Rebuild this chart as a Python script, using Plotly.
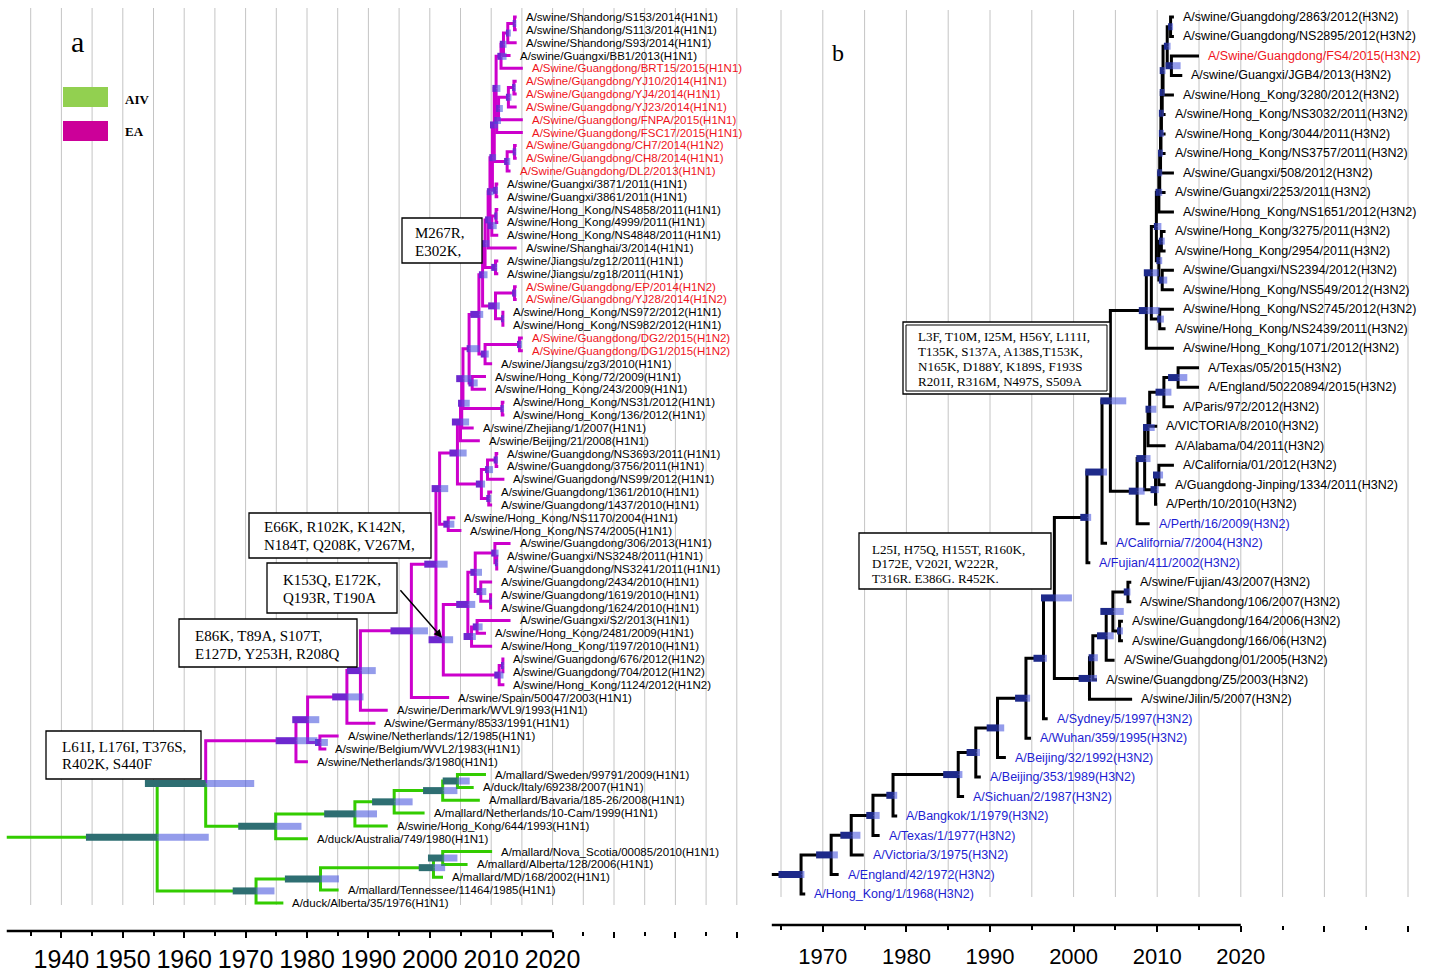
import plotly.graph_objects as go

W, H = 1445, 972

# ===================== Panel a data =====================
a_tip_names = [
    "A/swine/Shandong/S153/2014(H1N1)", "A/swine/Shandong/S113/2014(H1N1)",
    "A/swine/Shandong/S93/2014(H1N1)", "A/swine/Guangxi/BB1/2013(H1N1)",
    "A/Swine/Guangdong/BRT15/2015(H1N1)", "A/Swine/Guangdong/YJ10/2014(H1N1)",
    "A/Swine/Guangdong/YJ4/2014(H1N1)", "A/Swine/Guangdong/YJ23/2014(H1N1)",
    "A/Swine/Guangdong/FNPA/2015(H1N1)", "A/Swine/Guangdong/FSC17/2015(H1N1)",
    "A/Swine/Guangdong/CH7/2014(H1N2)", "A/Swine/Guangdong/CH8/2014(H1N1)",
    "A/Swine/Guangdong/DL2/2013(H1N1)", "A/swine/Guangxi/3871/2011(H1N1)",
    "A/swine/Guangxi/3861/2011(H1N1)", "A/swine/Hong_Kong/NS4858/2011(H1N1)",
    "A/swine/Hong_Kong/4999/2011(H1N1)", "A/swine/Hong_Kong/NS4848/2011(H1N1)",
    "A/swine/Shanghai/3/2014(H1N1)", "A/swine/Jiangsu/zg12/2011(H1N1)",
    "A/swine/Jiangsu/zg18/2011(H1N1)", "A/Swine/Guangdong/EP/2014(H1N2)",
    "A/Swine/Guangdong/YJ28/2014(H1N2)", "A/swine/Hong_Kong/NS972/2012(H1N1)",
    "A/swine/Hong_Kong/NS982/2012(H1N1)", "A/Swine/Guangdong/DG2/2015(H1N2)",
    "A/Swine/Guangdong/DG1/2015(H1N2)", "A/swine/Jiangsu/zg3/2010(H1N1)",
    "A/swine/Hong_Kong/72/2009(H1N1)", "A/swine/Hong_Kong/243/2009(H1N1)",
    "A/swine/Hong_Kong/NS31/2012(H1N1)", "A/swine/Hong_Kong/136/2012(H1N1)",
    "A/swine/Zhejiang/1/2007(H1N1)", "A/swine/Beijing/21/2008(H1N1)",
    "A/swine/Guangdong/NS3693/2011(H1N1)", "A/swine/Guangdong/3756/2011(H1N1)",
    "A/swine/Guangdong/NS99/2012(H1N1)", "A/swine/Guangdong/1361/2010(H1N1)",
    "A/swine/Guangdong/1437/2010(H1N1)", "A/swine/Hong_Kong/NS1170/2004(H1N1)",
    "A/swine/Hong_Kong/NS74/2005(H1N1)", "A/swine/Guangdong/306/2013(H1N1)",
    "A/swine/Guangxi/NS3248/2011(H1N1)", "A/swine/Guangdong/NS3241/2011(H1N1)",
    "A/swine/Guangdong/2434/2010(H1N1)", "A/swine/Guangdong/1619/2010(H1N1)",
    "A/swine/Guangdong/1624/2010(H1N1)", "A/swine/Guangxi/S2/2013(H1N1)",
    "A/swine/Hong_Kong/2481/2009(H1N1)", "A/swine/Hong_Kong/1197/2010(H1N1)",
    "A/swine/Guangdong/676/2012(H1N2)", "A/swine/Guangdong/704/2012(H1N2)",
    "A/swine/Hong_Kong/1124/2012(H1N2)", "A/swine/Spain/50047/2003(H1N1)",
    "A/swine/Denmark/WVL9/1993(H1N1)", "A/swine/Germany/8533/1991(H1N1)",
    "A/swine/Netherlands/12/1985(H1N1)", "A/swine/Belgium/WVL2/1983(H1N1)",
    "A/swine/Netherlands/3/1980(H1N1)", "A/mallard/Sweden/99791/2009(H1N1)",
    "A/duck/Italy/69238/2007(H1N1)", "A/mallard/Bavaria/185-26/2008(H1N1)",
    "A/mallard/Netherlands/10-Cam/1999(H1N1)", "A/swine/Hong_Kong/644/1993(H1N1)",
    "A/duck/Australia/749/1980(H1N1)", "A/mallard/Nova_Scotia/00085/2010(H1N1)",
    "A/mallard/Alberta/128/2006(H1N1)", "A/mallard/MD/168/2002(H1N1)",
    "A/mallard/Tennessee/11464/1985(H1N1)", "A/duck/Alberta/35/1976(H1N1)",
]
a_tip_dates = [
    2014.15, 2014.15, 2014.15, 2013.15, 2015.15, 2014.15, 2014.15, 2014.15, 2015.15, 2015.15,
    2014.15, 2014.15, 2013.15, 2011.15, 2011.15, 2011.15, 2011.15, 2011.15, 2014.15, 2011.15,
    2011.15, 2014.15, 2014.15, 2012.15, 2012.15, 2015.15, 2015.15, 2010.15, 2009.15, 2009.15,
    2012.15, 2012.15, 2007.15, 2008.15, 2011.15, 2011.15, 2012.15, 2010.15, 2010.15, 2004.15,
    2005.15, 2013.15, 2011.15, 2011.15, 2010.15, 2010.15, 2010.15, 2013.15, 2009.15, 2010.15,
    2012.15, 2012.15, 2012.15, 2003.15, 1993.15, 1991.15, 1985.15, 1983.15, 1980.15, 2009.15,
    2007.15, 2008.15, 1999.15, 1993.15, 1980.15, 2010.15, 2006.15, 2002.15, 1985.15, 1976.15,
]
a_new_strains = [4, 5, 6, 7, 8, 9, 10, 11, 12, 21, 22, 25, 26]

# internal nodes: (name, date, 95% HPD low, 95% HPD high, [upper child, lower child])
a_nodes = [
    ("root", 1955.6, 1944.0, 1964.0, ["N1", "G2"]),
    ("N1", 1963.5, 1953.6, 1971.4, ["EA0", "G1"]),
    ("EA0", 1978.2, 1974.9, 1981.7, ["EA1", 58]),
    ("EA1", 1980.1, 1977.6, 1982.0, ["A2", "NB"]),
    ("NB", 1982.1, 1981.3, 1983.4, [56, 57]),
    ("A2", 1986.5, 1984.1, 1989.2, ["A3", 55]),
    ("A3", 1988.7, 1986.5, 1991.2, ["A4", 54]),
    ("A4", 1997.0, 1993.6, 1999.7, ["A5", 53]),
    ("A5", 2001.0, 1999.1, 2002.9, ["A6", "A7"]),
    ("A6", 2001.6, 2000.3, 2003.0, ["A9", "NS"]),
    ("NS", 2003.0, 2002.2, 2004.0, [39, 40]),
    ("A9", 2004.5, 2003.2, 2006.0, ["M10", "G"]),
    ("G", 2008.4, 2007.5, 2009.0, ["g2", "g3"]),
    ("g2", 2009.4, 2009.0, 2010.3, ["g1", 36]),
    ("g1", 2010.8, 2010.4, 2011.1, [34, 35]),
    ("g3", 2009.6, 2009.2, 2010.0, [37, 38]),
    ("M10", 2005.0, 2003.6, 2006.4, ["M9", 33]),
    ("M9", 2005.2, 2004.6, 2006.5, ["M8", 32]),
    ("M8", 2005.4, 2004.3, 2006.8, ["M7", "SC9"]),
    ("SC9", 2011.8, 2011.5, 2012.1, [30, 31]),
    ("M7", 2006.4, 2006.0, 2008.1, ["M6", "SC8"]),
    ("SC8", 2006.9, 2006.3, 2007.8, [28, 29]),
    ("M6", 2008.0, 2006.6, 2008.7, ["M5", "SC7"]),
    ("SC7", 2009.0, 2008.3, 2009.6, ["DG", 27]),
    ("DG", 2014.6, 2014.2, 2015.0, [25, 26]),
    ("M5", 2008.6, 2008.0, 2009.4, ["M4", "SC6"]),
    ("SC6", 2010.7, 2009.5, 2011.4, ["EPp", "NS9p"]),
    ("EPp", 2013.8, 2013.4, 2014.1, [21, 22]),
    ("NS9p", 2011.9, 2011.6, 2012.1, [23, 24]),
    ("M4", 2009.0, 2008.0, 2009.7, ["M3", "SC5"]),
    ("SC5", 2010.7, 2010.0, 2011.0, [19, 20]),
    ("M3", 2009.5, 2009.0, 2010.0, ["M2", 18]),
    ("M2", 2009.8, 2009.3, 2010.4, ["M1", "SC3"]),
    ("SC3", 2010.1, 2009.4, 2010.9, ["SC3a", 17]),
    ("SC3a", 2010.8, 2010.5, 2011.0, [15, 16]),
    ("M1", 2010.2, 2009.7, 2010.8, ["SC1", "SC2"]),
    ("SC2", 2010.8, 2010.3, 2011.1, [13, 14]),
    ("SC1", 2010.5, 2009.8, 2011.1, ["SC1a", "CH"]),
    ("CH", 2012.6, 2012.1, 2013.1, ["CHp", 12]),
    ("CHp", 2013.8, 2013.5, 2014.1, [10, 11]),
    ("SC1a", 2010.8, 2010.2, 2011.5, ["SD4", "YJ5"]),
    ("YJ5", 2010.9, 2010.5, 2011.6, ["YJ4", 9]),
    ("YJ4", 2011.2, 2010.8, 2011.9, ["YJ3", 8]),
    ("YJ3", 2012.8, 2012.4, 2013.3, ["YJp", 7]),
    ("YJp", 2013.7, 2013.4, 2014.0, [5, 6]),
    ("SD4", 2011.6, 2011.0, 2012.5, ["SD3", 4]),
    ("SD3", 2012.0, 2011.4, 2012.5, ["SD2", 3]),
    ("SD2", 2012.7, 2012.4, 2013.2, ["SDp", 2]),
    ("SDp", 2013.8, 2013.5, 2014.1, [0, 1]),
    ("A7", 2002.2, 1999.8, 2003.8, ["A7a", "A7b"]),
    ("A7a", 2006.2, 2004.3, 2007.4, ["c5", "c7"]),
    ("c5", 2007.4, 2006.6, 2008.5, ["c2", "c4"]),
    ("c2", 2010.6, 2010.0, 2011.2, [41, "c1"]),
    ("c1", 2010.9, 2010.6, 2011.1, [42, 43]),
    ("c4", 2008.3, 2007.6, 2009.2, [44, "c3"]),
    ("c3", 2009.9, 2009.7, 2010.1, [45, 46]),
    ("c7", 2006.8, 2005.5, 2007.5, ["c6", 49]),
    ("c6", 2007.7, 2007.0, 2008.6, [47, 48]),
    ("A7b", 2011.3, 2010.5, 2012.0, ["c8", 52]),
    ("c8", 2011.9, 2011.6, 2012.1, [50, 51]),
    ("G1", 1974.9, 1968.8, 1979.1, ["G1a", 64]),
    ("G1a", 1987.8, 1982.8, 1991.4, ["G1b", 63]),
    ("G1b", 1994.2, 1990.6, 1997.2, ["G1c", 62]),
    ("G1c", 2002.1, 1998.9, 2004.5, ["G1d", 61]),
    ("G1d", 2004.5, 2002.1, 2006.5, [59, 60]),
    ("G2", 1971.7, 1967.9, 1974.7, ["G2a", 69]),
    ("G2a", 1982.2, 1976.4, 1985.2, ["G2b", 68]),
    ("G2b", 2000.6, 1998.2, 2002.5, ["G2c", 67]),
    ("G2c", 2002.1, 1999.7, 2004.5, [65, 66]),
]
a_stem_start = 1931.1
a_ea_clade_root = "EA0"
a_axis_labels = [1940, 1950, 1960, 1970, 1980, 1990, 2000, 2010, 2020]

# ===================== Panel b data =====================
b_tip_names = [
    "A/swine/Guangdong/2863/2012(H3N2)", "A/swine/Guangdong/NS2895/2012(H3N2)",
    "A/Swine/Guangdong/FS4/2015(H3N2)", "A/swine/Guangxi/JGB4/2013(H3N2)",
    "A/swine/Hong_Kong/3280/2012(H3N2)", "A/swine/Hong_Kong/NS3032/2011(H3N2)",
    "A/swine/Hong_Kong/3044/2011(H3N2)", "A/swine/Hong_Kong/NS3757/2011(H3N2)",
    "A/swine/Guangxi/508/2012(H3N2)", "A/swine/Guangxi/2253/2011(H3N2)",
    "A/swine/Hong_Kong/NS1651/2012(H3N2)", "A/swine/Hong_Kong/3275/2011(H3N2)",
    "A/swine/Hong_Kong/2954/2011(H3N2)", "A/swine/Guangxi/NS2394/2012(H3N2)",
    "A/swine/Hong_Kong/NS549/2012(H3N2)", "A/swine/Hong_Kong/NS2745/2012(H3N2)",
    "A/swine/Hong_Kong/NS2439/2011(H3N2)", "A/swine/Hong_Kong/1071/2012(H3N2)",
    "A/Texas/05/2015(H3N2)", "A/England/50220894/2015(H3N2)",
    "A/Paris/972/2012(H3N2)", "A/VICTORIA/8/2010(H3N2)",
    "A/Alabama/04/2011(H3N2)", "A/California/01/2012(H3N2)",
    "A/Guangdong-Jinping/1334/2011(H3N2)", "A/Perth/10/2010(H3N2)",
    "A/Perth/16/2009(H3N2)", "A/California/7/2004(H3N2)",
    "A/Fujian/411/2002(H3N2)", "A/swine/Fujian/43/2007(H3N2)",
    "A/swine/Shandong/106/2007(H3N2)", "A/swine/Guangdong/164/2006(H3N2)",
    "A/swine/Guangdong/166/06(H3N2)", "A/Swine/Guangdong/01/2005(H3N2)",
    "A/swine/Guangdong/Z5/2003(H3N2)", "A/swine/Jilin/5/2007(H3N2)",
    "A/Sydney/5/1997(H3N2)", "A/Wuhan/359/1995(H3N2)",
    "A/Beijing/32/1992(H3N2)", "A/Beijing/353/1989(H3N2)",
    "A/Sichuan/2/1987(H3N2)", "A/Bangkok/1/1979(H3N2)",
    "A/Texas/1/1977(H3N2)", "A/Victoria/3/1975(H3N2)",
    "A/England/42/1972(H3N2)", "A/Hong_Kong/1/1968(H3N2)",
]
b_tip_dates = [
    2012.0, 2012.0, 2015.0, 2013.0, 2012.0, 2011.0, 2011.0, 2011.0, 2012.0, 2011.0,
    2012.0, 2011.0, 2011.0, 2012.0, 2012.0, 2012.0, 2011.0, 2012.0, 2015.0, 2015.0,
    2012.0, 2010.0, 2011.0, 2012.0, 2011.0, 2010.0, 2009.1, 2004.0, 2002.0, 2006.9,
    2006.9, 2005.9, 2005.9, 2004.9, 2002.8, 2007.0, 1996.9, 1994.9, 1991.9, 1988.9,
    1986.9, 1978.9, 1976.8, 1974.9, 1971.9, 1967.9,
]
b_new_strains = [2]
b_vaccine_strains = [26, 27, 28, 36, 37, 38, 39, 40, 41, 42, 43, 44, 45]

b_nodes = [
    ("L1", 1967.4, 1964.7, 1967.8, ["L2", 45]),
    ("L2", 1971.0, 1969.2, 1971.8, ["L3", 44]),
    ("L3", 1973.4, 1972.1, 1974.5, ["L4", 43]),
    ("L4", 1976.0, 1975.2, 1976.8, ["L5", 42]),
    ("L5", 1978.4, 1977.6, 1978.9, ["L6", 41]),
    ("L6", 1986.2, 1984.4, 1986.7, ["L7", 40]),
    ("L7", 1988.3, 1987.2, 1988.8, ["L8", 39]),
    ("L8", 1990.9, 1989.6, 1991.7, ["L9", 38]),
    ("L9", 1994.3, 1993.0, 1994.8, ["L10", 37]),
    ("L10", 1996.4, 1995.2, 1996.8, ["Q5", 36]),
    ("Q5", 1997.7, 1996.1, 1999.8, ["Q3", "S6"]),
    ("Q3", 2001.6, 2000.8, 2002.1, ["Q2", 28]),
    ("Q2", 2003.4, 2001.4, 2004.0, ["Q1", 27]),
    ("Q1", 2004.4, 2003.2, 2006.3, ["p17", "H1"]),
    ("H1", 2007.6, 2006.6, 2008.5, ["H2", 26]),
    ("H2", 2008.5, 2007.5, 2009.2, ["H3", "H4"]),
    ("H3", 2008.9, 2008.3, 2009.7, ["VC", 22]),
    ("VC", 2009.1, 2008.6, 2009.9, ["PA", 21]),
    ("PA", 2010.8, 2009.8, 2011.7, ["TE", 20]),
    ("TE", 2012.5, 2011.3, 2013.6, [18, 19]),
    ("H4", 2009.8, 2009.2, 2010.2, ["H4a", 25]),
    ("H4a", 2010.2, 2009.5, 2010.7, [23, 24]),
    ("p17", 2008.7, 2007.8, 2010.3, ["p16", 17]),
    ("p16", 2009.3, 2008.4, 2010.2, ["p14", "p15"]),
    ("p15", 2010.3, 2010.0, 2010.8, [15, 16]),
    ("p14", 2009.9, 2009.6, 2010.5, ["p10", "p13"]),
    ("p13", 2010.2, 2009.9, 2010.6, ["p11", "p12"]),
    ("p12", 2010.6, 2010.2, 2011.2, [13, 14]),
    ("p11", 2010.5, 2010.2, 2010.9, [11, 12]),
    ("p10", 2010.2, 2009.8, 2010.6, ["p9", 10]),
    ("p9", 2010.3, 2010.0, 2010.6, ["p8", 9]),
    ("p8", 2010.4, 2010.1, 2010.7, ["p7", 8]),
    ("p7", 2010.45, 2010.2, 2010.8, ["p6", 7]),
    ("p6", 2010.5, 2010.2, 2010.8, ["p5", 6]),
    ("p5", 2010.6, 2010.3, 2010.9, ["p4", 5]),
    ("p4", 2010.7, 2010.3, 2011.0, ["p3", 4]),
    ("p3", 2011.2, 2010.8, 2011.6, ["p1", "p2"]),
    ("p1", 2011.6, 2011.3, 2011.9, [0, 1]),
    ("p2", 2011.7, 2011.0, 2012.8, [2, 3]),
    ("S6", 2001.9, 2000.6, 2002.8, ["s5", 35]),
    ("s5", 2002.3, 2001.8, 2002.9, ["s4", 34]),
    ("s4", 2003.9, 2002.8, 2004.8, ["s3", 33]),
    ("s3", 2004.7, 2003.2, 2006.0, ["s1", "s2"]),
    ("s1", 2006.5, 2006.0, 2006.8, [29, 30]),
    ("s2", 2005.5, 2005.2, 2005.9, [31, 32]),
]
b_stem_start = 1963.9
b_axis_labels = [1970, 1980, 1990, 2000, 2010, 2020]

# annotation boxes (mutations)
a_box_texts = [
    ["M267R,", "E302K,"],
    ["E66K, R102K, K142N,", "N184T, Q208K, V267M,"],
    ["K153Q, E172K,", "Q193R, T190A"],
    ["E86K, T89A, S107T,", "E127D, Y253H, R208Q"],
    ["L61I, L176I, T376S,", "R402K, S440F"],
]
b_box_texts = [
    ["L3F, T10M, I25M, H56Y, L111I,", "T135K, S137A, A138S,T153K,",
     "N165K, D188Y, K189S, F193S", "R201I, R316M, N497S, S509A"],
    ["L25I, H75Q, H155T, R160K,", "D172E, V202I, W222R,", "T316R. E386G. R452K."],
]
legend_labels = ["AIV", "EA"]

# ===================== layout geometry (pixels) =====================
A_LEFT, A_RIGHT, A_BOTTOM = 0, 760, 931
A_PX0, A_YR0, A_PPY = 30.7, 1935.0, 6.14
A_ROW0, A_ROWH = 17.0, 12.84
B_LEFT, B_RIGHT, B_BOTTOM = 765, 1440, 925
B_PX0, B_YR0, B_PPY = 781.0, 1965.0, 8.36
B_ROW0, B_ROWH = 17.0, 19.49

def yr_at(px, px0, yr0, ppy):
    return yr0 + (px - px0) / ppy

a_xrange = [yr_at(A_LEFT, A_PX0, A_YR0, A_PPY), yr_at(A_RIGHT, A_PX0, A_YR0, A_PPY)]
a_yrange = [(A_BOTTOM - A_ROW0) / A_ROWH, (0 - A_ROW0) / A_ROWH]
b_xrange = [yr_at(B_LEFT, B_PX0, B_YR0, B_PPY), yr_at(B_RIGHT, B_PX0, B_YR0, B_PPY)]
b_yrange = [(B_BOTTOM - B_ROW0) / B_ROWH, (0 - B_ROW0) / B_ROWH]

def px_x(px):
    return px / W

def px_y(py):
    return 1 - py / H

fig = go.Figure()

BAR_LIGHT = "rgba(70,85,220,0.58)"

def draw_tree(nodes, tip_dates, stem_start, group_of, branch_colors, dark_colors,
              xa, ya, lw, bw):
    info = {n[0]: n for n in nodes}
    ycache = {}

    def Y(c):
        if isinstance(c, int):
            return float(c)
        if c not in ycache:
            ch = info[c][4]
            ycache[c] = (Y(ch[0]) + Y(ch[-1])) / 2.0
        return ycache[c]

    def X(c):
        return tip_dates[c] if isinstance(c, int) else info[c][1]

    children = set()
    for n in nodes:
        for c in n[4]:
            if not isinstance(c, int):
                children.add(c)
    root = [n[0] for n in nodes if n[0] not in children][0]

    segs = {g: ([], []) for g in branch_colors}
    g = group_of(root)
    segs[g][0].extend([stem_start, X(root), None])
    segs[g][1].extend([Y(root), Y(root), None])
    for n in nodes:
        name, d = n[0], n[1]
        for c in n[4]:
            g = group_of(c)
            segs[g][0].extend([d, d, X(c), None])
            segs[g][1].extend([Y(name), Y(c), Y(c), None])
    for g, (xs, ys) in segs.items():
        if xs:
            fig.add_trace(go.Scatter(x=xs, y=ys, mode="lines", xaxis=xa, yaxis=ya,
                                     line=dict(color=branch_colors[g], width=lw),
                                     hoverinfo="skip"))
    dark = {g: ([], []) for g in dark_colors}
    lx, ly = [], []
    for n in nodes:
        name, d, lo, hi = n[0], n[1], n[2], n[3]
        g = group_of(name)
        dark[g][0].extend([lo, d, None])
        dark[g][1].extend([Y(name), Y(name), None])
        lx.extend([d, hi, None])
        ly.extend([Y(name), Y(name), None])
    for g, (xs, ys) in dark.items():
        if xs:
            fig.add_trace(go.Scatter(x=xs, y=ys, mode="lines", xaxis=xa, yaxis=ya,
                                     line=dict(color=dark_colors[g], width=bw),
                                     hoverinfo="skip"))
    fig.add_trace(go.Scatter(x=lx, y=ly, mode="lines", xaxis=xa, yaxis=ya,
                             line=dict(color=BAR_LIGHT, width=bw), hoverinfo="skip"))
    return info, X, Y

# ---- panel a tree ----
a_info = {n[0]: n for n in a_nodes}

def collect(info, name, acc):
    acc.add(name)
    for c in info[name][4]:
        if isinstance(c, int):
            acc.add(c)
        else:
            collect(info, c, acc)
    return acc

a_ea_set = collect(a_info, a_ea_clade_root, set())

def a_group(c):
    return "EA" if c in a_ea_set else "AIV"

a_info, aX, aY = draw_tree(
    a_nodes, a_tip_dates, a_stem_start, a_group,
    {"EA": "#cc00cc", "AIV": "#33cc00"},
    {"EA": "#6d28cf", "AIV": "#2e6e72"},
    "x", "y", 3, 7)

b_info, bX, bY = draw_tree(
    b_nodes, b_tip_dates, b_stem_start, lambda c: "H3",
    {"H3": "#000000"}, {"H3": "#1e2a8a"},
    "x2", "y2", 3, 7)

annotations = []
shapes = []

# tip labels
for i, name in enumerate(a_tip_names):
    col = "#f0141c" if i in a_new_strains else "#000000"
    annotations.append(dict(x=a_tip_dates[i], y=i, xref="x", yref="y", text=name,
                            showarrow=False, xanchor="left", yanchor="middle", xshift=7,
                            font=dict(family="Liberation Sans, Arial", size=11.5, color=col)))
for i, name in enumerate(b_tip_names):
    if i in b_new_strains:
        col = "#f0141c"
    elif i in b_vaccine_strains:
        col = "#1d1dd2"
    else:
        col = "#000000"
    annotations.append(dict(x=b_tip_dates[i], y=i, xref="x2", yref="y2", text=name,
                            showarrow=False, xanchor="left", yanchor="middle", xshift=7,
                            font=dict(family="Liberation Sans, Arial", size=12.5, color=col)))

# gridlines
for yr in range(1935, 2051, 5):
    shapes.append(dict(type="line", xref="x", yref="y", x0=yr, x1=yr,
                       y0=(8 - A_ROW0) / A_ROWH, y1=(905 - A_ROW0) / A_ROWH,
                       line=dict(color="#c4c4c4", width=1), layer="below"))
for yr in range(1965, 2041, 5):
    shapes.append(dict(type="line", xref="x2", yref="y2", x0=yr, x1=yr,
                       y0=(10 - B_ROW0) / B_ROWH, y1=(897 - B_ROW0) / B_ROWH,
                       line=dict(color="#c4c4c4", width=1), layer="below"))

# axis lines
shapes.append(dict(type="line", xref="x", yref="y domain", x0=a_stem_start, x1=2020,
                   y0=0, y1=0, line=dict(color="black", width=2.5)))
shapes.append(dict(type="line", xref="x2", yref="y2 domain", x0=b_stem_start, x1=2020,
                   y0=0, y1=0, line=dict(color="black", width=2.5)))

# mutation boxes
def box(x0, y0, x1, y1, lines, tx, ty0, dy, size, double=False):
    shapes.append(dict(type="rect", xref="paper", yref="paper",
                       x0=px_x(x0), x1=px_x(x1), y0=px_y(y1), y1=px_y(y0),
                       line=dict(color="black", width=1.3), fillcolor="white", layer="above"))
    if double:
        shapes.append(dict(type="rect", xref="paper", yref="paper",
                           x0=px_x(x0 + 3), x1=px_x(x1 - 3), y0=px_y(y1 - 3), y1=px_y(y0 + 3),
                           line=dict(color="black", width=1), fillcolor="rgba(0,0,0,0)",
                           layer="above"))
    for k, t in enumerate(lines):
        annotations.append(dict(x=px_x(tx), y=px_y(ty0 + k * dy), xref="paper", yref="paper",
                                text=t, showarrow=False, xanchor="left", yanchor="middle",
                                font=dict(family="Liberation Serif, Times New Roman",
                                          size=size, color="black")))

box(402, 218, 482, 263, a_box_texts[0], 413, 233, 18.4, 15)
box(249, 513, 431, 558, a_box_texts[1], 262, 527, 17.5, 15)
box(267, 563, 397, 613, a_box_texts[2], 281, 580, 18, 15)
box(179, 619, 357, 667, a_box_texts[3], 193, 636, 17.5, 15)
box(46, 731, 201, 779, a_box_texts[4], 60, 747, 17.3, 15)
box(903, 322, 1110, 394, b_box_texts[0], 916, 336, 15.2, 13, double=True)
box(859, 533, 1051, 589, b_box_texts[1], 870, 549, 14.5, 13)

# arrow pointing to the K153Q node
annotations.append(dict(x=aX("A7") - 0.2, y=aY("A7") - 0.15, xref="x", yref="y",
                        ax=-43, ay=-49, axref="pixel", ayref="pixel", text="",
                        showarrow=True, arrowhead=2, arrowsize=1.1, arrowwidth=1.5,
                        arrowcolor="black"))

# legend
shapes.append(dict(type="rect", xref="paper", yref="paper", x0=px_x(63), x1=px_x(108),
                   y0=px_y(107), y1=px_y(87), fillcolor="#92d050", line=dict(width=0)))
shapes.append(dict(type="rect", xref="paper", yref="paper", x0=px_x(63), x1=px_x(108),
                   y0=px_y(141), y1=px_y(121), fillcolor="#cc0099", line=dict(width=0)))
for lab, yy in zip(legend_labels, [99, 132]):
    annotations.append(dict(x=px_x(123), y=px_y(yy), xref="paper", yref="paper",
                            text="<b>%s</b>" % lab, showarrow=False, xanchor="left",
                            yanchor="middle",
                            font=dict(family="Liberation Serif, Times New Roman", size=13,
                                      color="black")))

# panel letters
annotations.append(dict(x=px_x(77), y=px_y(42), xref="paper", yref="paper", text="a",
                        showarrow=False, xanchor="center", yanchor="middle",
                        font=dict(family="Liberation Serif, Times New Roman", size=30,
                                  color="black")))
annotations.append(dict(x=px_x(838), y=px_y(53), xref="paper", yref="paper", text="b",
                        showarrow=False, xanchor="center", yanchor="middle",
                        font=dict(family="Liberation Serif, Times New Roman", size=24,
                                  color="black")))

tick_font_family = "Liberation Sans, Arial"

a_major = list(range(1940, 2051, 10))
a_minor = list(range(1935, 2050, 10))
b_major = list(range(1970, 2041, 10))
b_minor = list(range(1965, 2040, 10))

fig.update_layout(
    width=W, height=H, margin=dict(l=0, r=0, t=0, b=0, autoexpand=False),
    paper_bgcolor="white", plot_bgcolor="white", showlegend=False,
    xaxis=dict(domain=[px_x(A_LEFT), px_x(A_RIGHT)], range=a_xrange, anchor="y",
               showgrid=False, zeroline=False, showline=False, automargin=False,
               tickmode="array", tickvals=a_major, tickangle=0,
               ticktext=[str(v) if v in a_axis_labels else "" for v in a_major],
               ticks="outside", ticklen=6, tickwidth=2, tickcolor="black",
               ticklabelstandoff=0,
               tickfont=dict(family=tick_font_family, size=25, color="black"),
               minor=dict(tickmode="array", tickvals=a_minor, ticks="outside", ticklen=4,
                          tickwidth=1.5, tickcolor="black", showgrid=False)),
    yaxis=dict(domain=[px_y(A_BOTTOM), 1], range=a_yrange, anchor="x", visible=False,
               automargin=False),
    xaxis2=dict(domain=[px_x(B_LEFT), px_x(B_RIGHT)], range=b_xrange, anchor="y2",
                showgrid=False, zeroline=False, showline=False, automargin=False,
                tickmode="array", tickvals=b_major, tickangle=0,
                ticktext=[str(v) if v in b_axis_labels else "" for v in b_major],
                ticks="outside", ticklen=6, tickwidth=2, tickcolor="black",
                ticklabelstandoff=6,
                tickfont=dict(family=tick_font_family, size=22, color="black"),
                minor=dict(tickmode="array", tickvals=b_minor, ticks="outside", ticklen=4,
                           tickwidth=1.5, tickcolor="black", showgrid=False)),
    yaxis2=dict(domain=[px_y(B_BOTTOM), 1], range=b_yrange, anchor="x2", visible=False,
                automargin=False),
    annotations=annotations, shapes=shapes,
)

fig.write_html("out.html", config={"displayModeBar": False},
               post_script="document.body.style.margin='0';")
